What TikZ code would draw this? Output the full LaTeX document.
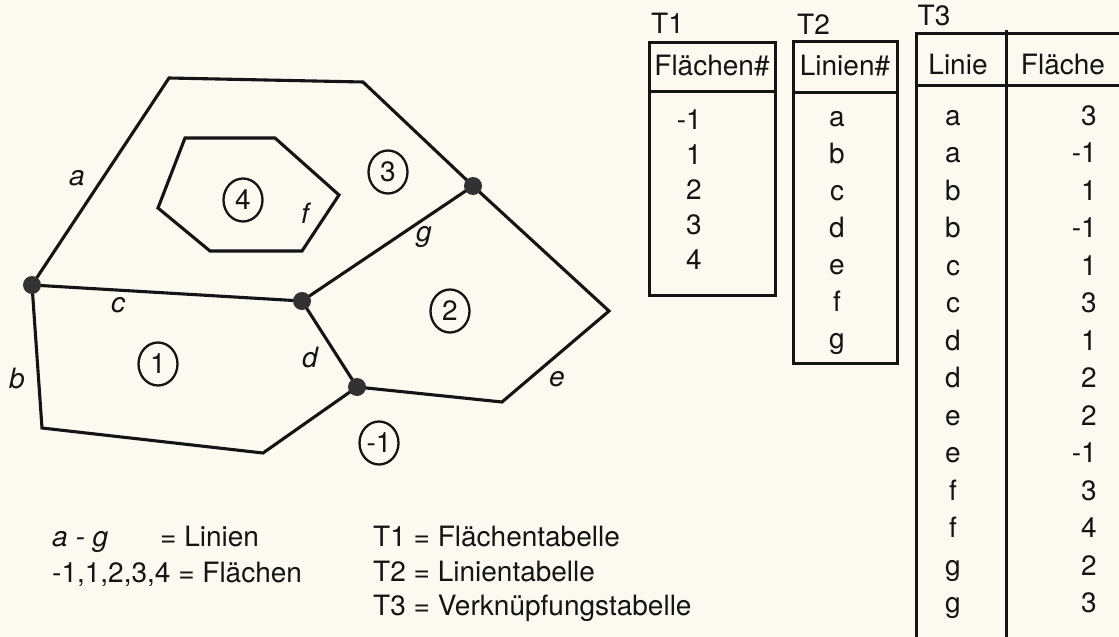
\documentclass[tikz,border=0pt]{standalone}
\usepackage{fontspec}
\setmainfont{TeX Gyre Heros}
\usetikzlibrary{shapes.geometric}
\definecolor{paper}{RGB}{252,249,241}
\definecolor{ink}{RGB}{20,20,20}
\definecolor{dotc}{RGB}{50,50,50}
\tikzset{
  edge/.style={draw=ink, line width=3.1pt, line join=miter},
  vtx/.style={circle, fill=dotc, draw=none, minimum size=18pt, inner sep=0pt},
  face/.style={ellipse, draw=ink, line width=2.3pt, minimum width=39pt, minimum height=43pt, inner sep=0pt, text=ink, font=\fontsize{28}{30}\selectfont},
  lbl/.style={font=\fontsize{28}{30}\selectfont\itshape, text=ink, inner sep=0pt},
  txt/.style={font=\fontsize{28}{30}\selectfont, text=ink, inner sep=0pt, text height=20pt, text depth=6pt},
  tab/.style={draw=ink, line width=3pt},
}
\begin{document}
\begin{tikzpicture}[x=1pt,y=-1pt]
\fill[paper] (0,0) rectangle (1119,637);
\useasboundingbox (0,0) rectangle (1119,637);
% vertices
\coordinate (TL) at (169,78);
\coordinate (TR) at (363,82);
\coordinate (RV) at (609,311);
\coordinate (EV) at (502,402);
\coordinate (BV) at (263,453);
\coordinate (BL) at (42,428);
\coordinate (pNL) at (32,285);
\coordinate (pNM) at (302,301);
\coordinate (pNB) at (357,387);
\coordinate (pNR) at (473,186);
% lines
\draw[edge] (pNL) -- (TL) -- (TR) -- (pNR);          % a
\draw[edge] (pNL) -- (BL) -- (BV) -- (pNB);          % b
\draw[edge] (pNL) -- (pNM);                          % c
\draw[edge] (pNM) -- (pNB);                          % d
\draw[edge] (pNB) -- (EV) -- (RV) -- (pNR);          % e
\draw[edge] (pNR) -- (pNM);                          % g
\coordinate (H1) at (185,138);
\coordinate (H2) at (275,138);
\coordinate (H3) at (339,195);
\coordinate (H4) at (302,251);
\coordinate (H5) at (210,251);
\coordinate (H6) at (158,208);
\draw[edge] (H1) -- (H2) -- (H3) -- (H4) -- (H5) -- (H6) -- cycle; % f
% nodes (dots)
\node[vtx] (NL) at (pNL) {};
\node[vtx] (NM) at (pNM) {};
\node[vtx] (NB) at (pNB) {};
\node[vtx] (NR) at (pNR) {};
% line labels
\node[lbl] (la) at (77,178) {a};
\node[lbl] (lb) at (17,378) {b};
\node[lbl] (lc) at (118,305) {c};
\node[lbl] (ld) at (310,357) {d};
\node[lbl] (le) at (557,379) {e};
\node[lbl] (lf) at (305,213) {f};
\node[lbl] (lg) at (424,237) {g};
% faces
\node[face] (F3) at (388,172) {3};
\node[face] (F4) at (243,200) {4};
\node[face] (F2) at (450,311) {2};
\node[face] (F1) at (158,364) {1};
\node[face] (Fm1) at (379,443) {-1};
% legend
\node[txt, anchor=west] (lg1) at (52,539) {\itshape a - g};
\node[txt, anchor=west] (lg2) at (160,539) {= Linien};
\node[txt, anchor=west] (lg3) at (52,575) {-1,1,2,3,4 = Flächen};
\node[txt, anchor=west] (lg4) at (373,539) {T1 = Flächentabelle};
\node[txt, anchor=west] (lg5) at (373,574) {T2 = Linientabelle};
\node[txt, anchor=west] (lg6) at (373,608) {T3 = Verknüpfungstabelle};
% T1
\node[txt, anchor=west] (t1) at (651,26) {T1};
\draw[tab] (649,42) rectangle (775,295);
\draw[tab] (649,91) -- (775,91);
\node[txt] (t1h) at (712,68) {Flächen\#};
\foreach \v [count=\i from 0] in {-1,1,2,3,4}
  \node[txt, anchor=east] (t1r\i) at (702,{122+35*\i}) {\v};
% T2
\node[txt, anchor=west] (t2) at (797,27) {T2};
\draw[tab] (793,41) rectangle (897,363);
\draw[tab] (793,92) -- (897,92);
\node[txt] (t2h) at (845,68) {Linien\#};
\foreach \v [count=\i from 0] in {a,b,c,d,e,f,g}
  \node[txt] (t2r\i) at (837,{119+37*\i}) {\v};
% T3
\node[txt] (t3) at (934,18) {T3};
\draw[tab] (916,637) -- (916,33) -- (1119,33);
\draw[tab] (916,85) -- (1119,85);
\draw[tab] (1006,30) -- (1006,637);
\node[txt] (t3h1) at (958,67) {Linie};
\node[txt] (t3h2) at (1063,67) {Fläche};
\foreach \l/\n [count=\i from 0] in {a/3,a/-1,b/1,b/-1,c/1,c/3,d/1,d/2,e/2,e/-1,f/3,f/4,g/2,g/3}{
  \node[txt] (t3l\i) at (953,{118+37.5*\i}) {\l};
  \node[txt, anchor=east] (t3n\i) at (1097,{118+37.5*\i}) {\n};
}
\end{tikzpicture}
\end{document}
